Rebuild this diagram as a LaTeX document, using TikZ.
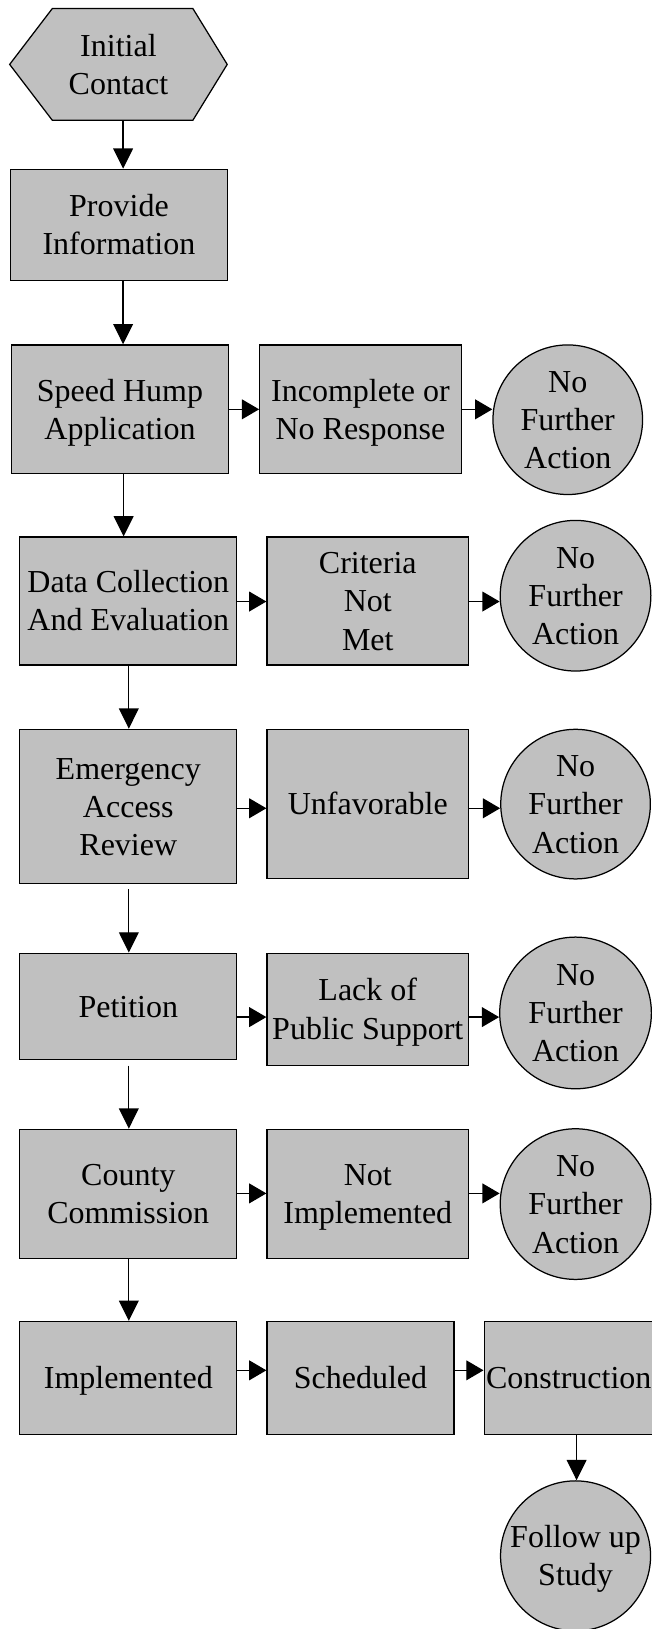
\documentclass[tikz,border=0pt]{standalone}
\usepackage{fontspec}
\setmainfont{Liberation Serif}
\usetikzlibrary{arrows.meta,backgrounds}
\definecolor{boxgray}{HTML}{C0C0C0}
\newcommand\dfont{\fontsize{30.8}{36.8}\selectfont}
\newcommand\sr{\rule[-0.216em]{0pt}{1.107em}}
\tikzset{
  outline/.style={draw=black, line width=1.2pt},
  box/.style={outline, fill=boxgray, rectangle, inner sep=0pt, align=center, font=\dfont},
  hexnode/.style={rectangle, draw=none, inner sep=0pt, align=center, font=\dfont,
                  minimum width=209pt, minimum height=107pt},
  endcirc/.style={outline, fill=boxgray, circle, inner sep=0pt, align=center, font=\dfont},
  varr/.style={line width=1.2pt, -{Triangle[length=19.5pt,width=19pt]}},
  harr/.style={line width=1.2pt, -{Triangle[length=16.5pt,width=19pt]}},
}
\begin{document}
\begin{tikzpicture}[x=1pt,y=-1pt]
\useasboundingbox (0,0) rectangle (627,1568);

% hexagon start
\node[hexnode] (init) at (114,62) {\sr Initial\\\sr Contact};
\begin{scope}[on background layer]
\draw[outline, fill=boxgray] (init.west) -- ([xshift=41pt]init.north west)
  -- ([xshift=-33pt]init.north east) -- (init.east)
  -- ([xshift=-33pt]init.south east) -- ([xshift=41pt]init.south west) -- cycle;
\end{scope}

% boxes
\node[box, minimum width=209pt, minimum height=107pt] (prov) at (114.5,216.5) {\sr Provide\\\sr Information};
\node[box, minimum width=209pt, minimum height=124pt] (speed) at (115.5,394) {\sr Speed Hump\\\sr Application};
\node[box, minimum width=194pt, minimum height=124pt] (incomp) at (347,394) {\sr Incomplete or\\\sr No Response};
\node[endcirc, minimum size=144pt] (nfa1) at (546.5,404) {\sr No\\\sr Further\\\sr Action};

\node[box, minimum width=209pt, minimum height=123pt] (data) at (123.5,578.5) {\sr Data Collection\\\sr And Evaluation};
\node[box, minimum width=194pt, minimum height=123pt] (crit) at (354,578.5) {\sr Criteria\\\sr Not\\\sr Met};
\node[endcirc, minimum size=145pt] (nfa2) at (554,573.4) {\sr No\\\sr Further\\\sr Action};

\node[box, minimum width=209pt, minimum height=148.5pt] (emerg) at (123.5,776.25) {\sr Emergency\\\sr Access\\\sr Review};
\node[box, minimum width=194pt, minimum height=143.7pt] (unfav) at (354,773.85) {\sr Unfavorable};
\node[endcirc, minimum size=144pt] (nfa3) at (554,774) {\sr No\\\sr Further\\\sr Action};

\node[box, minimum width=209pt, minimum height=102.5pt] (pet) at (123.5,968.75) {\sr Petition};
\node[box, minimum width=194pt, minimum height=108pt] (lack) at (354,971.5) {\sr Lack of\\\sr Public Support};
\node[endcirc, minimum size=146pt] (nfa4) at (554,975) {\sr No\\\sr Further\\\sr Action};

\node[box, minimum width=209pt, minimum height=124pt] (county) at (123.5,1149) {\sr County\\\sr Commission};
\node[box, minimum width=194pt, minimum height=124pt] (notimp) at (354,1149) {\sr Not\\\sr Implemented};
\node[endcirc, minimum size=145pt] (nfa5) at (554,1159) {\sr No\\\sr Further\\\sr Action};

\node[box, minimum width=209pt, minimum height=109pt] (impl) at (123.5,1326.5) {\sr Implemented};
\node[box, minimum width=180pt, minimum height=109pt] (sched) at (347,1326.5) {\sr Scheduled};
\node[box, minimum width=163pt, minimum height=109pt] (constr) at (547.5,1326.5) {\sr Construction};
\node[endcirc, minimum size=143pt] (follow) at (554,1497.6) {\sr Follow up\\\sr Study};

% guide coordinates
\coordinate (c1) at (118.5,0);
\coordinate (c1b) at (119,0);
\coordinate (c2) at (124,0);
\coordinate (c3) at (555,0);
\coordinate (r1) at (0,394);
\coordinate (r2) at (0,579);
\coordinate (r3) at (0,778);
\coordinate (r4) at (0,979);
\coordinate (r5) at (0,1148.7);
\coordinate (r6) at (0,1319);

% vertical connectors
\draw[varr] (init.south -| c1) -- (prov.north -| c1);
\draw[varr] (prov.south -| c1) -- (speed.north -| c1);
\draw[varr] (speed.south -| c1b) -- (data.north -| c1b);
\draw[varr] (data.south -| c2) -- (emerg.north -| c2);
\draw[varr] ([yshift=-5pt]emerg.south -| c2) -- (pet.north -| c2);
\draw[varr] ([yshift=-5pt]pet.south -| c2) -- (county.north -| c2);
\draw[varr] (county.south -| c2) -- (impl.north -| c2);
\draw[varr] (constr.south -| c3) -- (follow.north -| c3);

% horizontal connectors
\draw[harr] (speed.east |- r1) -- (incomp.west |- r1);
\draw[harr] (incomp.east |- r1) -- (nfa1.west |- r1);
\draw[harr] (data.east |- r2) -- (crit.west |- r2);
\draw[harr] (crit.east |- r2) -- (nfa2.west |- r2);
\draw[harr] (emerg.east |- r3) -- (unfav.west |- r3);
\draw[harr] (unfav.east |- r3) -- (nfa3.west |- r3);
\draw[harr] (pet.east |- r4) -- (lack.west |- r4);
\draw[harr] (lack.east |- r4) -- (nfa4.west |- r4);
\draw[harr] (county.east |- r5) -- (notimp.west |- r5);
\draw[harr] (notimp.east |- r5) -- (nfa5.west |- r5);
\draw[harr] (impl.east |- r6) -- (sched.west |- r6);
\draw[harr] (sched.east |- r6) -- (constr.west |- r6);
\end{tikzpicture}
\end{document}
